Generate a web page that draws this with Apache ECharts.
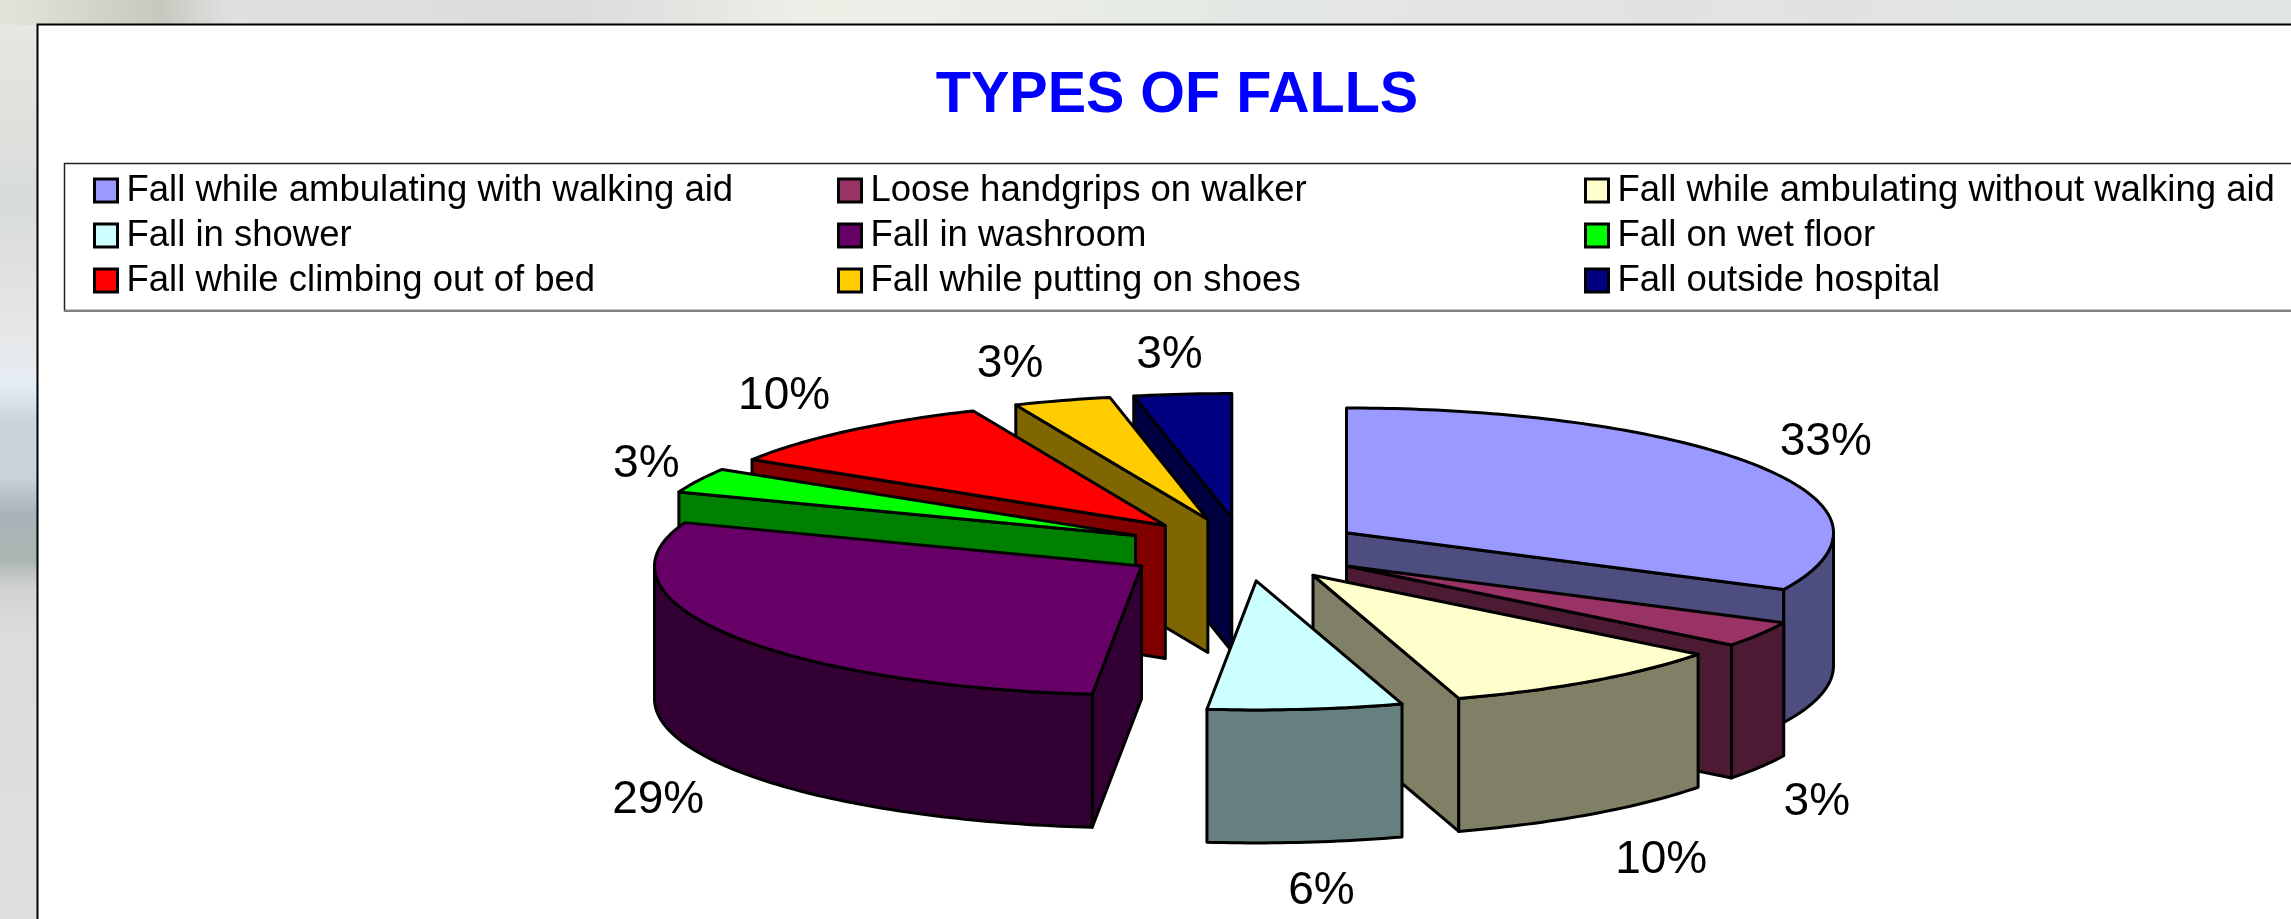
<!DOCTYPE html>
<html>
<head>
<meta charset="utf-8">
<title>Types of falls</title>
<script src="https://cdn.jsdelivr.net/npm/echarts@6/dist/echarts.min.js"></script>
<style>
  html, body { margin: 0; padding: 0; background: #fff; }
  #chart { width: 2291px; height: 919px; }
</style>
</head>
<body>
<div id="chart"></div>
<script>
const categories = [
  'Fall while ambulating with walking aid',
  'Loose handgrips on walker',
  'Fall while ambulating without walking aid',
  'Fall in shower',
  'Fall in washroom',
  'Fall on wet floor',
  'Fall while climbing out of bed',
  'Fall while putting on shoes',
  'Fall outside hospital'
];
// slice sizes as measured from the slice angles
const values = [10, 1, 3, 2, 9, 1, 3, 1, 1];
// the percentages printed on the chart
const percentLabels = ['33%', '3%', '10%', '6%', '29%', '3%', '10%', '3%', '3%'];
const colors = ['#9999FF', '#993366', '#FFFFCC', '#CCFFFF', '#660066', '#00FF00', '#FF0000', '#FFCC00', '#000080'];

// back to front, the 3D look needs the far slices painted first
const drawOrder = [8, 7, 6, 5, 4, 0, 1, 2, 3];
// label nudge from the rim middle, px
const labelNudge = [[66, -24], [57, 168], [70, 179], [16, 182], [-70, 166], [-52, -16], [-64, -35], [-52, -36], [-13, -39]];

const tiltBack = 0.256;  // ellipse height / width, far half
const tiltFront = 0.265; // near half is a little bigger
const depth = 133;       // pie thickness, px
const explode = 0.248;   // as part of the radius
const labelFont = '46px "Liberation Sans"';

const myChart = echarts.init(document.getElementById('chart'));

const starts = [];
const total = values.reduce((sum, v, i) => { starts[i] = sum; return sum + v; }, 0);

function renderSlice(params, api) {
  const idx = api.value(3);
  const from = api.value(1);
  const to = from + api.value(2);
  const mid = (from + to) / 2;
  const center = api.coord([0, 0]);
  const flat = (r, v) => {
    const p = api.coord([r, v]);
    const dy = p[1] - center[1];
    return [p[0], center[1] + dy * (dy > 0 ? tiltFront : tiltBack)];
  };
  const apex = flat(explode, mid);
  const rim = (v) => {
    const p = flat(1, v);
    return [apex[0] + p[0] - center[0], apex[1] + p[1] - center[1]];
  };
  const down = (p) => [p[0], p[1] + depth];
  const arc = (a, b) => {
    const pts = [];
    const n = Math.max(2, Math.ceil((b - a) * 12));
    for (let i = 0; i <= n; i++) pts.push(rim(a + (b - a) * i / n));
    return pts;
  };

  const top = colors[idx];
  const side = echarts.color.lerp(0.5, ['#000000', top]);
  const style = (fill) => ({ fill, stroke: '#000', lineWidth: 3, lineJoin: 'round' });
  const poly = (points, fill) => ({ type: 'polygon', shape: { points }, style: style(fill) });
  const children = [];

  // cut faces, only those turned to the viewer
  const fromAngle = from / total * 2 * Math.PI;
  const toAngle = to / total * 2 * Math.PI;
  if (Math.sin(fromAngle) < -1e-6) {
    const e = rim(from);
    children.push(poly([apex, e, down(e), down(apex)], side));
  }
  if (Math.sin(toAngle) > 1e-6) {
    const e = rim(to);
    children.push(poly([apex, e, down(e), down(apex)], side));
  }
  // outer wall, front half of the ellipse only
  const a = Math.max(from, total / 4);
  const b = Math.min(to, total * 3 / 4);
  if (a < b) {
    const edge = arc(a, b);
    children.push(poly(edge.concat(edge.map(down).reverse()), side));
  }
  children.push(poly([apex].concat(arc(from, to)), top));

  const lab = flat(1 + explode, mid);
  children.push({
    type: 'text',
    style: {
      text: percentLabels[idx],
      x: lab[0] + labelNudge[idx][0],
      y: lab[1] + labelNudge[idx][1],
      font: labelFont,
      fill: '#000',
      align: 'center',
      verticalAlign: 'middle'
    }
  });
  return { type: 'group', children };
}

const series = drawOrder.map((i) => ({
  name: categories[i],
  type: 'custom',
  coordinateSystem: 'polar',
  renderItem: renderSlice,
  itemStyle: { color: colors[i] },
  silent: true,
  animation: false,
  data: [[1, starts[i], values[i], i]]
}));

const legendBase = {
  orient: 'vertical',
  top: 172,
  padding: 0,
  icon: 'rect',
  itemWidth: 23,
  itemHeight: 23,
  itemGap: 8,
  selectedMode: false,
  itemStyle: { borderColor: '#000', borderWidth: 3 },
  textStyle: { fontFamily: 'Liberation Sans', fontSize: 36.5, color: '#000', padding: [0, 0, 0, 4] }
};

const option = {
  animation: false,
  backgroundColor: '#fff',
  title: {
    text: 'TYPES OF FALLS',
    left: 1172,
    top: 62,
    textAlign: 'center',
    textStyle: { fontFamily: 'Liberation Sans', fontSize: 57.5, fontWeight: 'bold', color: '#0000FF' }
  },
  legend: [
    Object.assign({}, legendBase, { left: 93, data: [categories[0], categories[3], categories[6]] }),
    Object.assign({}, legendBase, { left: 837, data: [categories[1], categories[4], categories[7]] }),
    Object.assign({}, legendBase, { left: 1584, data: [categories[2], categories[5], categories[8]] })
  ],
  polar: { center: [1244, 549], radius: 487 },
  angleAxis: { type: 'value', min: 0, max: total, startAngle: 90, show: false },
  radiusAxis: { type: 'value', min: 0, max: 1, show: false },
  series,
  graphic: [
    // blurred photo behind the slide
    { type: 'rect', z: -5, shape: { x: 0, y: 0, width: 38, height: 919 }, style: {
      fill: new echarts.graphic.LinearGradient(0, 0, 0, 1, [
        { offset: 0, color: '#e8e8e4' }, { offset: 0.22, color: '#d8dcd8' }, { offset: 0.36, color: '#e6e6e6' },
        { offset: 0.42, color: '#e4edf4' }, { offset: 0.46, color: '#c9d3dc' }, { offset: 0.52, color: '#c8d2da' },
        { offset: 0.56, color: '#a9b1b9' }, { offset: 0.61, color: '#abb6b1' }, { offset: 0.64, color: '#d2d2d2' },
        { offset: 0.69, color: '#dcdcdc' }, { offset: 1, color: '#dfdfdf' }
      ]) } },
    { type: 'rect', z: -5, shape: { x: 0, y: 0, width: 2291, height: 25 }, style: {
      fill: new echarts.graphic.LinearGradient(0, 0, 1, 0, [
        { offset: 0, color: '#e4e4dc' }, { offset: 0.07, color: '#c8c8c0' }, { offset: 0.1, color: '#e0e0e0' },
        { offset: 0.25, color: '#dcdcdc' }, { offset: 0.36, color: '#eef0e8' }, { offset: 0.55, color: '#e4e8e4' },
        { offset: 0.72, color: '#e2e2e2' }, { offset: 1, color: '#dfe6e2' }
      ]) } },
    // slide panel
    { type: 'rect', z: -4, shape: { x: 37.5, y: 24.5, width: 2400, height: 1000 }, style: { fill: '#fff', stroke: '#000', lineWidth: 2 } },
    // legend box
    { type: 'rect', z: -3, shape: { x: 64.5, y: 163.5, width: 2400, height: 147 }, style: { fill: '#fff', stroke: '#222', lineWidth: 1.5 } },
    { type: 'line', z: -2, shape: { x1: 64, y1: 311, x2: 2291, y2: 311 }, style: { stroke: '#808080', lineWidth: 2 } }
  ]
};

myChart.setOption(option);
window.addEventListener('resize', function () {
  myChart.resize();
});
</script>
</body>
</html>
